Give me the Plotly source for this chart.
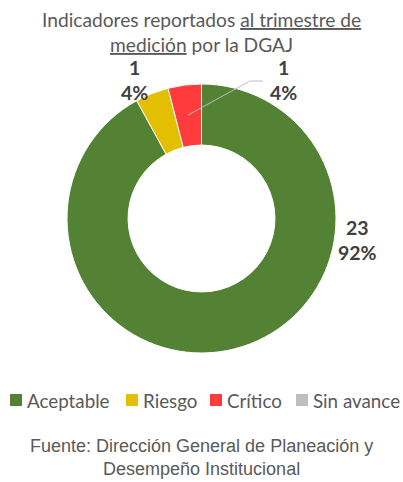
import plotly.graph_objects as go

categories = ["Aceptable", "Riesgo", "Crítico", "Sin avance"]
values = [23, 1, 1, 0]
percents = ["92%", "4%", "4%", "0%"]
colors = ["#548235", "#E2BF00", "#FF3B3B", "#BFBFBF"]

W, H = 403, 482
cx, cy, r = 201.5, 218.5, 134.5


def px(x):
    return x / W


def py(y):
    return 1 - y / H


fig = go.Figure(go.Pie(
    labels=categories, values=values, hole=0.546, sort=False,
    direction="clockwise", rotation=0,
    marker=dict(colors=colors, line=dict(color="white", width=1)),
    textinfo="none", hoverinfo="label+value+percent",
    domain=dict(x=[px(cx - r), px(cx + r)], y=[py(cy + r), py(cy - r)]),
    showlegend=False,
))

CAL = "Lato, Carlito, sans-serif"
lab_font = dict(family=CAL, size=19.5, color="#404040")
label_pos = {0: (357, 240), 1: (134, 80), 2: (283.5, 80)}
anns = []
for i, (x, y) in label_pos.items():
    anns.append(dict(x=px(x), y=py(y), xref="paper", yref="paper", xanchor="center", yanchor="middle",
                     text=f"<b>{values[i]}</b><br><b>{percents[i]}</b>",
                     showarrow=False, font=lab_font, align="center"))

anns.append(dict(x=0.5, y=py(32), xref="paper", yref="paper", xanchor="center", yanchor="middle",
                 text="Indicadores reportados <u>al trimestre de</u><br><u>medición</u> por la DGAJ",
                 showarrow=False, font=dict(family=CAL, size=19.2, color="#595959"),
                 align="center"))
anns.append(dict(x=0.5, y=py(457.5), xref="paper", yref="paper", xanchor="center", yanchor="middle",
                 text="Fuente: Dirección General de Planeación y<br>Desempeño Institucional",
                 showarrow=False, font=dict(family="Liberation Sans, Arial, sans-serif", size=18, color="#595959"),
                 align="center"))

# legend: square markers + labels
legend_sq_x = [10, 126, 210, 296]
shapes = []
for name, c, x0 in zip(categories, colors, legend_sq_x):
    shapes.append(dict(type="rect", xref="paper", yref="paper",
                       x0=px(x0), x1=px(x0 + 12), y0=py(406), y1=py(394),
                       fillcolor=c, line=dict(width=0)))
    anns.append(dict(x=px(x0 + 15), y=py(400), xref="paper", yref="paper", xanchor="left", yanchor="middle",
                     text=name, showarrow=False, font=dict(family=CAL, size=18.8, color="#595959")))

shapes += [
    dict(type="line", xref="paper", yref="paper", x0=px(250), y0=py(81), x1=px(263), y1=py(81),
         line=dict(color="#BFBFBF", width=1)),
    dict(type="line", xref="paper", yref="paper", x0=px(250), y0=py(81), x1=px(188), y1=py(115),
         line=dict(color="#BFBFBF", width=1)),
]

fig.update_layout(
    width=W, height=H, margin=dict(l=0, r=0, t=0, b=0),
    paper_bgcolor="white", plot_bgcolor="white",
    annotations=anns, shapes=shapes,
)

fig.write_html("out.html", config={"displayModeBar": False},
               post_script="document.body.style.margin='0';")
